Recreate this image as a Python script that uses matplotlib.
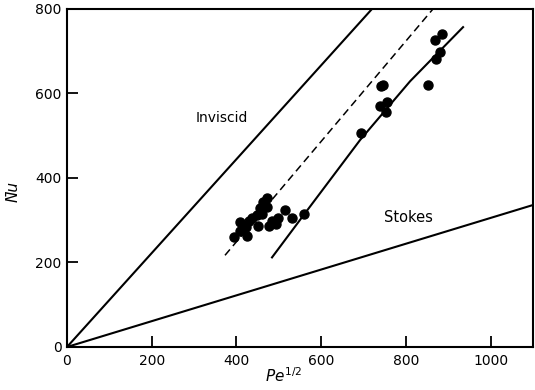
import matplotlib
matplotlib.use('Agg')
import matplotlib.pyplot as plt

# measured points (Pe^1/2, Nu)
pe_data = [394, 409, 409, 423, 425, 430, 437, 449, 451, 456, 463, 472, 472, 460,
           477, 484, 494, 498, 515, 531, 560,
           694, 739, 741, 746, 753, 755, 852, 869, 871, 881, 885]
nu_data = [260, 274, 295, 283, 262, 298, 305, 312, 286, 329, 343, 352, 331, 314,
           286, 298, 290, 305, 324, 305, 314,
           507, 571, 617, 619, 557, 579, 619, 726, 681, 698, 740]

# theory / fit lines
inviscid_pe = [0, 720]
inviscid_nu = [0, 800]
stokes_pe = [0, 1100]
stokes_nu = [0, 336]
dashed_pe = [373, 864]
dashed_nu = [217, 800]
fit_pe = [484, 557, 692, 810, 935]
fit_nu = [212, 310, 490, 629, 757]

x_ticks = [0, 200, 400, 600, 800, 1000]
y_ticks = [0, 200, 400, 600, 800]

plt.rcParams['font.family'] = 'DejaVu Sans'
plt.rcParams['mathtext.fontset'] = 'dejavusans'

fig = plt.figure(figsize=(5.35, 3.9), dpi=100)
ax = fig.add_axes([0.1252, 0.1103, 0.8710, 0.8667])

ax.plot(inviscid_pe, inviscid_nu, color='black', lw=1.5)
ax.plot(stokes_pe, stokes_nu, color='black', lw=1.5)
ax.plot(dashed_pe, dashed_nu, color='black', lw=1.1, dashes=(5, 3))
ax.plot(fit_pe, fit_nu, color='black', lw=1.5)
ax.plot(pe_data, nu_data, 'o', color='black', markersize=6.5)

ax.text(366, 543, 'Inviscid', fontsize=10, ha='center', va='center')
ax.text(805, 307, 'Stokes', fontsize=10.5, ha='center', va='center')

ax.set_xlim(0, 1100)
ax.set_ylim(0, 800)
ax.set_xticks(x_ticks)
ax.set_yticks(y_ticks)
ax.tick_params(direction='in', length=8, width=1.3, labelsize=10)
ax.tick_params(axis='x', pad=5)
ax.tick_params(axis='y', pad=4)
for s in ax.spines.values():
    s.set_linewidth(1.5)

ax.set_xlabel(r'$Pe^{1/2}$', fontsize=11)
ax.xaxis.set_label_coords(0.465, -0.058)
ax.set_ylabel('N\u0304u', fontsize=11, style='italic')
ax.yaxis.set_label_coords(-0.10, 0.46)

plt.savefig('out.png', dpi=100)
